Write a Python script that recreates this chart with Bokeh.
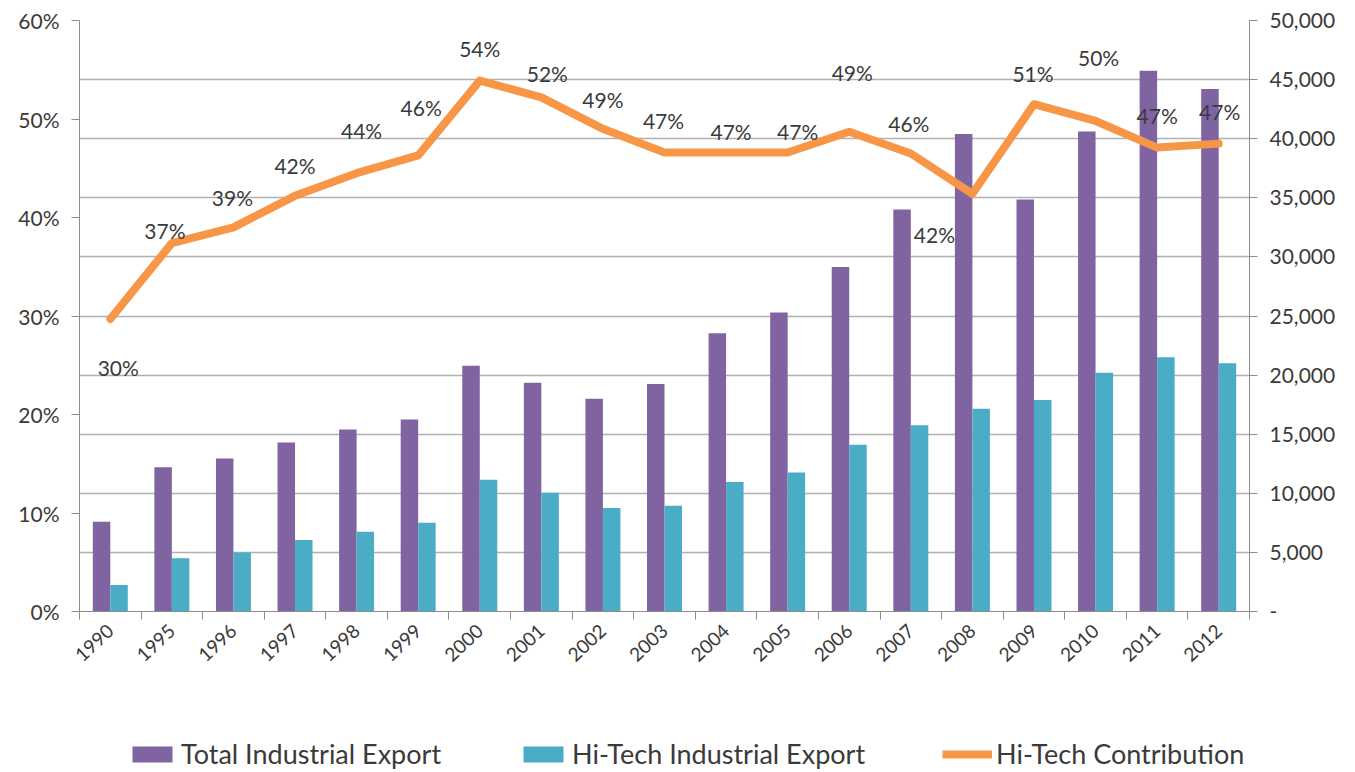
from bokeh.plotting import figure
from bokeh.layouts import column
from bokeh.models import (ColumnDataSource, Range1d, LinearAxis, FixedTicker,
                          NumeralTickFormatter, Legend, LegendItem)
from bokeh.transform import dodge
from bokeh.core.properties import value
from bokeh.embed import file_html
from bokeh.resources import INLINE

years = ["1990", "1995", "1996", "1997", "1998", "1999", "2000", "2001", "2002", "2003",
         "2004", "2005", "2006", "2007", "2008", "2009", "2010", "2011", "2012"]
total_export = [7600, 12200, 12950, 14300, 15400, 16250, 20800, 19350, 18000, 19250,
                23550, 25300, 29150, 34000, 40400, 34850, 40600, 45750, 44200]
hitech_export = [2250, 4500, 5000, 6050, 6750, 7500, 11150, 10050, 8750, 8950,
                 10950, 11750, 14100, 15750, 17150, 17900, 20200, 21500, 21000]
hitech_share = [0.297, 0.374, 0.390, 0.422, 0.445, 0.463, 0.539, 0.522, 0.490, 0.466,
                0.466, 0.466, 0.487, 0.465, 0.424, 0.515, 0.498, 0.471, 0.475]
share_labels = ["30%", "37%", "39%", "42%", "44%", "46%", "54%", "52%", "49%", "47%",
                "47%", "47%", "49%", "46%", "42%", "51%", "50%", "47%", "47%"]
series_names = ["Total Industrial Export", "Hi-Tech Industrial Export", "Hi-Tech Contribution"]
# label placement offsets (pixels, style only)
label_dx = [8, -7, -1, 0, 5, 3, 0, 6, 0, -1, 5, 10, 3, -2, -38, -1, 3, 0, 1]
label_dy = [49, -13, -30, -30, -43, -48, -32, -24, -29, -32, -21, -21, -59, -30, 41, -31, -63, -32, -32]

pct_ticks = [0, 0.1, 0.2, 0.3, 0.4, 0.5, 0.6]
val_ticks = [0, 5000, 10000, 15000, 20000, 25000, 30000, 35000, 40000, 45000, 50000]

PURPLE = "#8064A2"
TEAL = "#4BACC6"
ORANGE = "#F79646"
GRID = "#B0B0B0"
TXT = "#3A3A3A"
FONT = "Lato"

n = len(years)
xs = list(range(n))
src = ColumnDataSource(dict(
    x=xs, total=total_export, hitech=hitech_export, share=hitech_share,
    lab=share_labels, dx=label_dx, dy=label_dy,
))

p = figure(width=1340, height=700, output_backend="svg", toolbar_location=None,
           x_range=Range1d(-0.5, n - 0.5), y_range=Range1d(0, 50000),
           y_axis_location="right",
           min_border_left=79, min_border_right=91, min_border_top=20, min_border_bottom=89)
p.outline_line_color = None
p.background_fill_color = "white"
p.border_fill_color = "white"
p.extra_y_ranges = {"pct": Range1d(0, 0.6)}

bw = 0.284
p.vbar(x=dodge("x", -0.142), top="total", width=bw, source=src,
       fill_color=PURPLE, line_color=None)
p.vbar(x=dodge("x", 0.142), top="hitech", width=bw, source=src,
       fill_color=TEAL, line_color=None)
p.line(x="x", y="share", source=src, y_range_name="pct",
       line_color=ORANGE, line_width=8, line_join="round", line_cap="round")
p.text(x="x", y="share", text="lab", source=src, y_range_name="pct",
       x_offset="dx", y_offset="dy", text_align="center", text_baseline="middle",
       text_font=value(FONT), text_font_size="21px", text_color=TXT)

# right (primary) axis
ra = p.yaxis[0]
ra.ticker = FixedTicker(ticks=val_ticks)
ra.formatter = NumeralTickFormatter(format="0,0")
ra.major_label_overrides = {0: "-"}

# left percentage axis
la = LinearAxis(y_range_name="pct", ticker=FixedTicker(ticks=pct_ticks),
                formatter=NumeralTickFormatter(format="0%"))
p.add_layout(la, "left")

for ax in (ra, la):
    ax.axis_line_color = "#8C8C8C"
    ax.major_tick_line_color = "#8C8C8C"
    ax.major_tick_out = 8
    ax.major_tick_in = 0
    ax.minor_tick_line_color = None
    ax.major_label_text_font = FONT
    ax.major_label_text_font_size = "21px"
    ax.major_label_text_color = TXT
    ax.major_label_standoff = 12

xa = p.xaxis[0]
xa.ticker = FixedTicker(ticks=xs, minor_ticks=[i - 0.5 for i in range(n + 1)])
xa.major_label_overrides = {i: y for i, y in enumerate(years)}
xa.major_label_orientation = 0.75
xa.major_tick_line_color = None
xa.minor_tick_line_color = "#8C8C8C"
xa.minor_tick_out = 8
xa.minor_tick_in = 0
xa.axis_line_color = "#8C8C8C"
xa.major_label_text_font = FONT
xa.major_label_text_font_size = "19px"
xa.major_label_text_color = TXT
xa.major_label_standoff = 8

p.xgrid.visible = False
p.ygrid.ticker = FixedTicker(ticks=val_ticks)
p.ygrid.grid_line_color = GRID
p.ygrid.grid_line_width = 1.5

# legend strip below the chart (key glyphs sit outside its visible range)
lg = figure(width=1340, height=70, output_backend="svg", toolbar_location=None,
            x_range=Range1d(0, 1), y_range=Range1d(0, 1), min_border=0)
lg.outline_line_color = None
lg.axis.visible = False
lg.grid.visible = False
lg.border_fill_color = "white"
k_total = lg.vbar(x=[-5], top=[0], width=0.1, fill_color=PURPLE, line_color=None)
k_hitech = lg.vbar(x=[-5], top=[0], width=0.1, fill_color=TEAL, line_color=None)
k_line = lg.line(x=[-5, -4], y=[0, 0], line_color=ORANGE, line_width=8)

legend = Legend(items=[
    LegendItem(label=series_names[0], renderers=[k_total]),
    LegendItem(label=series_names[1], renderers=[k_hitech]),
    LegendItem(label=series_names[2], renderers=[k_line]),
], orientation="horizontal", location=(48, 0))
legend.glyph_width = 50
legend.glyph_height = 20
legend.label_standoff = 4
legend.spacing = 77
legend.padding = 0
legend.margin = 0
legend.border_line_color = None
legend.background_fill_alpha = 0
legend.label_text_font = FONT
legend.label_text_font_size = "27px"
legend.label_text_color = TXT
lg.add_layout(legend, "center")

open("out.html", "w").write(file_html(column(p, lg, spacing=0), INLINE))
